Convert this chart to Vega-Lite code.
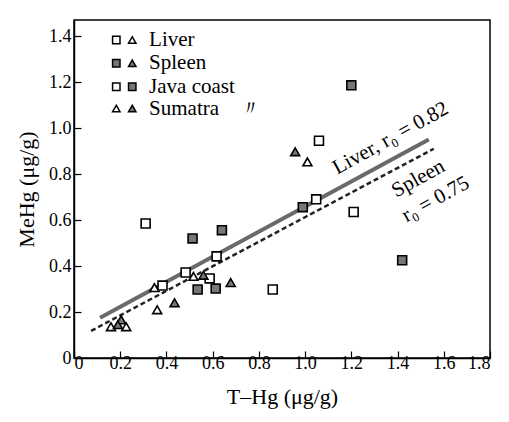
{
  "$schema": "https://vega.github.io/schema/vega-lite/v6.json",
  "width": 416,
  "height": 338,
  "autosize": {"type": "none"},
  "padding": {"left": 74, "top": 20, "right": 19, "bottom": 64},
  "background": "white",
  "config": {
    "view": {"stroke": "black", "strokeWidth": 1.5},
    "font": "Liberation Serif",
    "axis": {
      "grid": false,
      "domainColor": "black",
      "domainWidth": 1.5,
      "tickColor": "black",
      "tickWidth": 1.2,
      "tickSize": -7,
      "labelFont": "Liberation Serif",
      "labelFontSize": 18,
      "labelColor": "black",
      "titleFont": "Liberation Serif",
      "titleFontSize": 22,
      "titleFontWeight": "normal",
      "titleColor": "black"
    }
  },
  "datasets": {
    "points": [
      {"region": "Java coast", "organ": "Liver", "thg": 1.06, "mehg": 0.945},
      {"region": "Java coast", "organ": "Liver", "thg": 1.048, "mehg": 0.69},
      {"region": "Java coast", "organ": "Liver", "thg": 1.21, "mehg": 0.635},
      {"region": "Java coast", "organ": "Liver", "thg": 0.617, "mehg": 0.442},
      {"region": "Java coast", "organ": "Liver", "thg": 0.483, "mehg": 0.372},
      {"region": "Java coast", "organ": "Liver", "thg": 0.587, "mehg": 0.346},
      {"region": "Java coast", "organ": "Liver", "thg": 0.86, "mehg": 0.298},
      {"region": "Java coast", "organ": "Liver", "thg": 0.383, "mehg": 0.315},
      {"region": "Java coast", "organ": "Liver", "thg": 0.31, "mehg": 0.585},
      {"region": "Java coast", "organ": "Spleen", "thg": 1.2, "mehg": 1.186},
      {"region": "Java coast", "organ": "Spleen", "thg": 0.99, "mehg": 0.656},
      {"region": "Java coast", "organ": "Spleen", "thg": 1.42, "mehg": 0.425},
      {"region": "Java coast", "organ": "Spleen", "thg": 0.64, "mehg": 0.556},
      {"region": "Java coast", "organ": "Spleen", "thg": 0.513, "mehg": 0.52},
      {"region": "Java coast", "organ": "Spleen", "thg": 0.535, "mehg": 0.298},
      {"region": "Java coast", "organ": "Spleen", "thg": 0.613, "mehg": 0.302},
      {"region": "Sumatra", "organ": "Liver", "thg": 1.01, "mehg": 0.853},
      {"region": "Sumatra", "organ": "Liver", "thg": 0.517, "mehg": 0.355},
      {"region": "Sumatra", "organ": "Liver", "thg": 0.348, "mehg": 0.306},
      {"region": "Sumatra", "organ": "Liver", "thg": 0.36, "mehg": 0.21},
      {"region": "Sumatra", "organ": "Liver", "thg": 0.16, "mehg": 0.136},
      {"region": "Sumatra", "organ": "Liver", "thg": 0.226, "mehg": 0.136},
      {"region": "Sumatra", "organ": "Spleen", "thg": 0.957, "mehg": 0.897},
      {"region": "Sumatra", "organ": "Spleen", "thg": 0.56, "mehg": 0.36},
      {"region": "Sumatra", "organ": "Spleen", "thg": 0.678, "mehg": 0.328},
      {"region": "Sumatra", "organ": "Spleen", "thg": 0.435, "mehg": 0.24},
      {"region": "Sumatra", "organ": "Spleen", "thg": 0.204, "mehg": 0.166},
      {"region": "Sumatra", "organ": "Spleen", "thg": 0.19, "mehg": 0.145}
    ],
    "lines": [
      {"organ": "Liver", "thg": 0.113, "mehg": 0.175},
      {"organ": "Liver", "thg": 1.535, "mehg": 0.95},
      {"organ": "Spleen", "thg": 0.074, "mehg": 0.118},
      {"organ": "Spleen", "thg": 1.557, "mehg": 0.91}
    ],
    "legendSymbols": [
      {"region": "Java coast", "organ": "Liver", "thg": 0.183, "mehg": 1.383},
      {"region": "Sumatra", "organ": "Liver", "thg": 0.252, "mehg": 1.383},
      {"region": "Java coast", "organ": "Spleen", "thg": 0.183, "mehg": 1.282},
      {"region": "Sumatra", "organ": "Spleen", "thg": 0.252, "mehg": 1.282},
      {"region": "Java coast", "organ": "Liver", "thg": 0.183, "mehg": 1.18},
      {"region": "Java coast", "organ": "Spleen", "thg": 0.252, "mehg": 1.18},
      {"region": "Sumatra", "organ": "Liver", "thg": 0.183, "mehg": 1.085},
      {"region": "Sumatra", "organ": "Spleen", "thg": 0.252, "mehg": 1.085}
    ],
    "legendText": [
      {"label": "Liver", "thg": 0.325, "mehg": 1.383},
      {"label": "Spleen", "thg": 0.325, "mehg": 1.282},
      {"label": "Java coast", "thg": 0.325, "mehg": 1.18},
      {"label": "Sumatra", "thg": 0.325, "mehg": 1.085},
      {"label": "〃", "thg": 0.72, "mehg": 1.085}
    ],
    "notes": [
      {"label": "Liver, r₀ = 0.82", "thg": 1.37, "mehg": 0.955},
      {"label": "Spleen", "thg": 1.49, "mehg": 0.78},
      {"label": "r₀ = 0.75", "thg": 1.565, "mehg": 0.69}
    ]
  },
  "layer": [
    {
      "data": {"name": "lines"},
      "transform": [{"filter": "datum.organ == 'Liver'"}],
      "mark": {"type": "line", "stroke": "#6a6a6a", "strokeWidth": 4},
      "encoding": {
        "x": {"field": "thg", "type": "quantitative", "scale": {"domain": [0, 1.8], "nice": false},
          "axis": {"values": [0, 0.2, 0.4, 0.6, 0.8, 1.0, 1.2, 1.4, 1.6, 1.8], "labelExpr": "datum.value == 0 ? '0' : format(datum.value, '.1f')", "title": "T–Hg (μg/g)", "labelPadding": 3, "titlePadding": 14}},
        "y": {"field": "mehg", "type": "quantitative", "scale": {"domain": [0, 1.47], "nice": false},
          "axis": {"values": [0, 0.2, 0.4, 0.6, 0.8, 1.0, 1.2, 1.4], "labelExpr": "datum.value == 0 ? '0' : format(datum.value, '.1f')", "title": "MeHg (μg/g)", "labelPadding": 10, "titlePadding": 10}}
      }
    },
    {
      "data": {"name": "lines"},
      "transform": [{"filter": "datum.organ == 'Spleen'"}],
      "mark": {"type": "line", "stroke": "#222", "strokeWidth": 2.5, "strokeDash": [5, 3]},
      "encoding": {
        "x": {"field": "thg", "type": "quantitative"},
        "y": {"field": "mehg", "type": "quantitative"}
      }
    },
    {
      "data": {"name": "points"},
      "mark": {"type": "point", "filled": false, "stroke": "black", "strokeWidth": 1.6, "opacity": 1},
      "encoding": {
        "x": {"field": "thg", "type": "quantitative"},
        "y": {"field": "mehg", "type": "quantitative"},
        "shape": {"field": "region", "type": "nominal", "scale": {"domain": ["Java coast", "Sumatra"], "range": ["square", "triangle-up"]}, "legend": null},
        "fill": {"field": "organ", "type": "nominal", "scale": {"domain": ["Liver", "Spleen"], "range": ["white", "#777"]}, "legend": null},
        "size": {"value": 80}
      }
    },
    {
      "data": {"name": "legendSymbols"},
      "mark": {"type": "point", "filled": false, "stroke": "black", "strokeWidth": 1.5, "opacity": 1, "size": 55},
      "encoding": {
        "x": {"field": "thg", "type": "quantitative"},
        "y": {"field": "mehg", "type": "quantitative"},
        "shape": {"field": "region", "type": "nominal"},
        "fill": {"field": "organ", "type": "nominal"}
      }
    },
    {
      "data": {"name": "legendText"},
      "mark": {"type": "text", "align": "left", "baseline": "middle", "fontSize": 21, "font": "Liberation Serif", "color": "black"},
      "encoding": {
        "x": {"field": "thg", "type": "quantitative"},
        "y": {"field": "mehg", "type": "quantitative"},
        "text": {"field": "label"}
      }
    },
    {
      "data": {"name": "notes"},
      "mark": {"type": "text", "align": "center", "baseline": "middle", "fontSize": 21, "font": "Liberation Serif", "color": "black", "angle": 331},
      "encoding": {
        "x": {"field": "thg", "type": "quantitative"},
        "y": {"field": "mehg", "type": "quantitative"},
        "text": {"field": "label"}
      }
    }
  ]
}
